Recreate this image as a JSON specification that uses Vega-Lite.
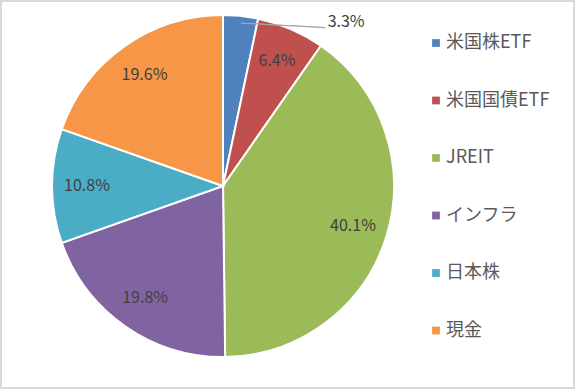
{
  "$schema": "https://vega.github.io/schema/vega-lite/v6.json",
  "width": 573,
  "height": 387,
  "autosize": {"type": "none"},
  "padding": 1,
  "background": "white",
  "view": {"stroke": "#d9d9d9", "strokeWidth": 2, "fill": "white"},
  "config": {
    "view": {"stroke": "#d9d9d9", "strokeWidth": 2},
    "style": {"cell": {"stroke": "#d9d9d9", "strokeWidth": 2}},
    "font": "Noto Sans CJK JP"
  },
  "data": {
    "values": [
      {"name": "米国株ETF", "value": 0.033, "idx": 1},
      {"name": "米国国債ETF", "value": 0.064, "idx": 2},
      {"name": "JREIT", "value": 0.401, "idx": 3},
      {"name": "インフラ", "value": 0.198, "idx": 4},
      {"name": "日本株", "value": 0.108, "idx": 5},
      {"name": "現金", "value": 0.196, "idx": 6}
    ]
  },
  "encoding": {
    "theta": {"field": "value", "type": "quantitative", "stack": true},
    "order": {"field": "idx", "type": "quantitative"},
    "detail": {"field": "name", "type": "nominal"}
  },
  "layer": [
    {
      "mark": {"type": "arc", "outerRadius": 171, "x": 222, "y": 185, "stroke": "white", "strokeWidth": 2},
      "encoding": {
        "color": {
          "field": "name",
          "type": "nominal",
          "scale": {
            "domain": ["米国株ETF", "米国国債ETF", "JREIT", "インフラ", "日本株", "現金"],
            "range": ["#4F81BD", "#C0504D", "#9BBB59", "#8064A2", "#4BACC6", "#F79646"]
          },
          "legend": {
            "orient": "none",
            "legendX": 426,
            "legendY": 33,
            "title": null,
            "symbolType": "square",
            "symbolSize": 60,
            "symbolStrokeWidth": 0,
            "labelFontSize": 18,
            "labelColor": "#595959",
            "labelFont": "Noto Sans CJK JP",
            "rowPadding": 39.5,
            "labelOffset": 1,
            "padding": 0
          }
        }
      }
    },
    {
      "mark": {"type": "text", "radius": 136, "x": 222, "y": 185, "fontSize": 16, "fill": "#404040", "align": "center", "baseline": "middle"},
      "encoding": {
        "text": {
          "field": "value",
          "type": "quantitative",
          "format": ".1%",
          "condition": {"test": "datum.idx == 1", "value": ""}
        }
      }
    },
    {
      "mark": {"type": "text", "radius": 180, "x": 222, "y": 185, "dx": 86, "dy": 15, "fontSize": 16, "fill": "#404040", "align": "left", "baseline": "middle"},
      "encoding": {
        "text": {
          "field": "value",
          "type": "quantitative",
          "format": ".1%",
          "condition": {"test": "datum.idx != 1", "value": ""}
        }
      }
    },
    {
      "mark": {"type": "text", "radius": 180, "x": 222, "y": 185, "dx": 42, "dy": 17, "angle": 3, "font": "DejaVu Sans Mono", "fontSize": 14, "fill": "#a6a6a6", "align": "center", "baseline": "middle"},
      "encoding": {
        "text": {
          "condition": {"test": "datum.idx == 1", "value": "──────────"},
          "value": ""
        }
      }
    }
  ]
}
